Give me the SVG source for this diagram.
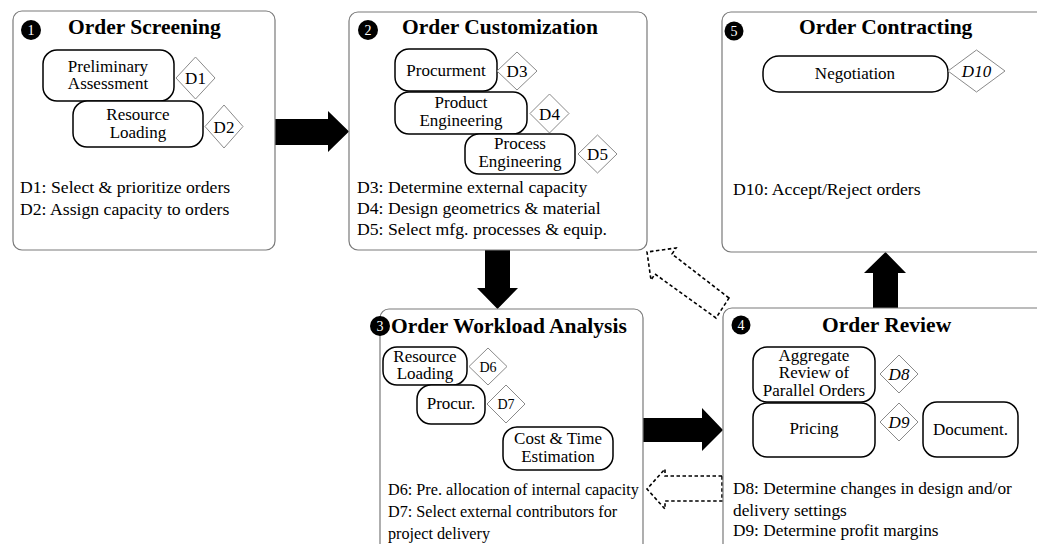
<svg xmlns="http://www.w3.org/2000/svg" width="1037" height="544" viewBox="0 0 1037 544">
<style>
.box{fill:#fff;stroke:#7a7a7a;stroke-width:1.2}
.act{fill:#fff;stroke:#000;stroke-width:1.5}
.dia{fill:#fff;stroke:#8a8a8a;stroke-width:1}
.t{font-family:"Liberation Serif","Times New Roman",serif;font-size:17px;fill:#000}
.lg{font-family:"Liberation Serif","Times New Roman",serif;font-size:17.7px;fill:#000}
.c{text-anchor:middle}
.title{font-family:"Liberation Serif","Times New Roman",serif;font-size:21.5px;font-weight:bold;fill:#000}
.num{font-family:"Liberation Serif","Times New Roman",serif;font-size:14px;fill:#fff;text-anchor:middle}
.it{font-style:italic}
.solid{fill:#000;stroke:none}
.dash{fill:#fff;stroke:#000;stroke-width:1.6;stroke-dasharray:3.5 2.5}
</style>
<rect width="1037" height="544" fill="#fff"/>
<g id="connectors">
<polygon class="solid" points="275,119 328,119 328,111 349,131.5 328,152 328,145 275,145"/>
<polygon class="solid" points="485,250 510,250 510,288 518,288 497.5,309 477,288 485,288"/>
<polygon class="solid" points="643,418 702,418 702,408 723,430 702,451 702,442 643,442"/>
<polygon class="solid" points="873,308 898,308 898,273 906,273 885.5,252 864,273 873,273"/>
<polygon class="dash" points="722,476 665,476 665,469 647,489 665,509 665,501 722,501"/>
<polygon class="dash" points="729,298 672,254 676,248 647,252 651,280 655,274 716,318"/>
</g>
<g id="node1">
<rect class="box" x="13" y="11" width="262" height="239" rx="9"/>
<circle cx="31" cy="30" r="10" fill="#000"/>
<text class="num" x="31" y="35">1</text>
<text class="title" x="68" y="34">Order Screening</text>
<rect class="act" x="43" y="50" width="131" height="51" rx="14"/>
<text class="t c" x="108" y="72">Preliminary</text>
<text class="t c" x="108" y="89">Assessment</text>
<polygon class="dia" points="176,78 195.5,57 215,78 195.5,99"/>
<text class="t c" x="195.5" y="84">D1</text>
<rect class="act" x="73" y="101" width="130" height="46" rx="14"/>
<text class="t c" x="138" y="120">Resource</text>
<text class="t c" x="138" y="138">Loading</text>
<polygon class="dia" points="205,126.5 224,105 243,126.5 224,148"/>
<text class="t c" x="224" y="132.5">D2</text>
<text class="lg" x="20" y="193">D1: Select &amp; prioritize orders</text>
<text class="lg" x="20" y="215">D2: Assign capacity to orders</text>
</g>
<g id="node2">
<rect class="box" x="349" y="12" width="298" height="238" rx="9"/>
<circle cx="368" cy="30" r="10" fill="#000"/>
<text class="num" x="368" y="35">2</text>
<text class="title" x="402" y="34">Order Customization</text>
<rect class="act" x="395" y="49" width="102" height="42" rx="14"/>
<text class="t c" x="446" y="76">Procurment</text>
<polygon class="dia" points="497,71 517,52 537,71 517,90"/>
<text class="t c" x="517" y="77">D3</text>
<rect class="act" x="395" y="92" width="132" height="42" rx="14"/>
<text class="t c" x="461" y="108">Product</text>
<text class="t c" x="461" y="126">Engineering</text>
<polygon class="dia" points="530,113.5 549.5,94 569,113.5 549.5,133"/>
<text class="t c" x="549.5" y="119.5">D4</text>
<rect class="act" x="465" y="134" width="110" height="40" rx="14"/>
<text class="t c" x="520" y="149">Process</text>
<text class="t c" x="520" y="167">Engineering</text>
<polygon class="dia" points="578,154 597.5,135 617,154 597.5,173"/>
<text class="t c" x="597.5" y="160">D5</text>
<text class="lg" x="357" y="193">D3: Determine external capacity</text>
<text class="lg" x="357" y="214">D4: Design geometrics &amp; material</text>
<text class="lg" x="357" y="235">D5: Select mfg. processes &amp; equip.</text>
</g>
<g id="node5">
<rect class="box" x="722" y="12" width="330" height="240" rx="9"/>
<circle cx="734" cy="31" r="9.5" fill="#000"/>
<text class="num" x="734" y="36">5</text>
<text class="title" x="799" y="34">Order Contracting</text>
<rect class="act" x="763" y="56" width="185" height="36" rx="16"/>
<text class="t c" x="855" y="79">Negotiation</text>
<polygon class="dia" points="948,71 976.5,50 1005,71 976.5,92"/>
<text class="t c it" x="976.5" y="77">D10</text>
<text class="lg" x="733" y="195">D10: Accept/Reject orders</text>
</g>
<g id="node3">
<rect class="box" x="380" y="309" width="263" height="260" rx="9"/>
<circle cx="380" cy="326" r="10" fill="#000"/>
<text class="num" x="380" y="331">3</text>
<text class="title" x="391" y="333">Order Workload Analysis</text>
<rect class="act" x="383" y="347" width="84" height="38" rx="14"/>
<text class="t c" x="425" y="362">Resource</text>
<text class="t c" x="425" y="379">Loading</text>
<polygon class="dia" points="469,366.5 488,348 507,366.5 488,385"/>
<text class="t c" x="488" y="371.5" style="font-size:14px">D6</text>
<rect class="act" x="417" y="385" width="68" height="39" rx="14"/>
<text class="t c" x="451" y="409">Procur.</text>
<polygon class="dia" points="487,404 506,385 525,404 506,423"/>
<text class="t c" x="506" y="409" style="font-size:14px">D7</text>
<rect class="act" x="503" y="427" width="110" height="43" rx="14"/>
<text class="t c" x="558" y="444">Cost &amp; Time</text>
<text class="t c" x="558" y="462">Estimation</text>
<text class="lg" x="388" y="495" style="font-size:16.2px">D6: Pre. allocation of internal capacity</text>
<text class="lg" x="388" y="517" style="font-size:16.2px">D7: Select external contributors for</text>
<text class="lg" x="388" y="539" style="font-size:16.2px">project delivery</text>
</g>
<g id="node4">
<rect class="box" x="723" y="308" width="330" height="260" rx="9"/>
<circle cx="741" cy="325" r="9.5" fill="#000"/>
<text class="num" x="741" y="330">4</text>
<text class="title" x="822" y="332">Order Review</text>
<rect class="act" x="753" y="347" width="122" height="55" rx="14"/>
<text class="t c" x="814" y="361">Aggregate</text>
<text class="t c" x="814" y="378">Review of</text>
<text class="t c" x="814" y="396">Parallel Orders</text>
<polygon class="dia" points="880,374 899,355 918,374 899,393"/>
<text class="t c it" x="899" y="380">D8</text>
<rect class="act" x="753" y="403" width="122" height="54" rx="14"/>
<text class="t c" x="814" y="434">Pricing</text>
<polygon class="dia" points="880,422 899,403 918,422 899,441"/>
<text class="t c it" x="899" y="428">D9</text>
<rect class="act" x="923" y="402" width="95" height="55" rx="14"/>
<text class="t c" x="970.5" y="435">Document.</text>
<text class="lg" x="733" y="494" style="font-size:17.3px">D8: Determine changes in design and/or</text>
<text class="lg" x="733" y="516" style="font-size:17.3px">delivery settings</text>
<text class="lg" x="733" y="536" style="font-size:17.3px">D9: Determine profit margins</text>
</g>
</svg>
